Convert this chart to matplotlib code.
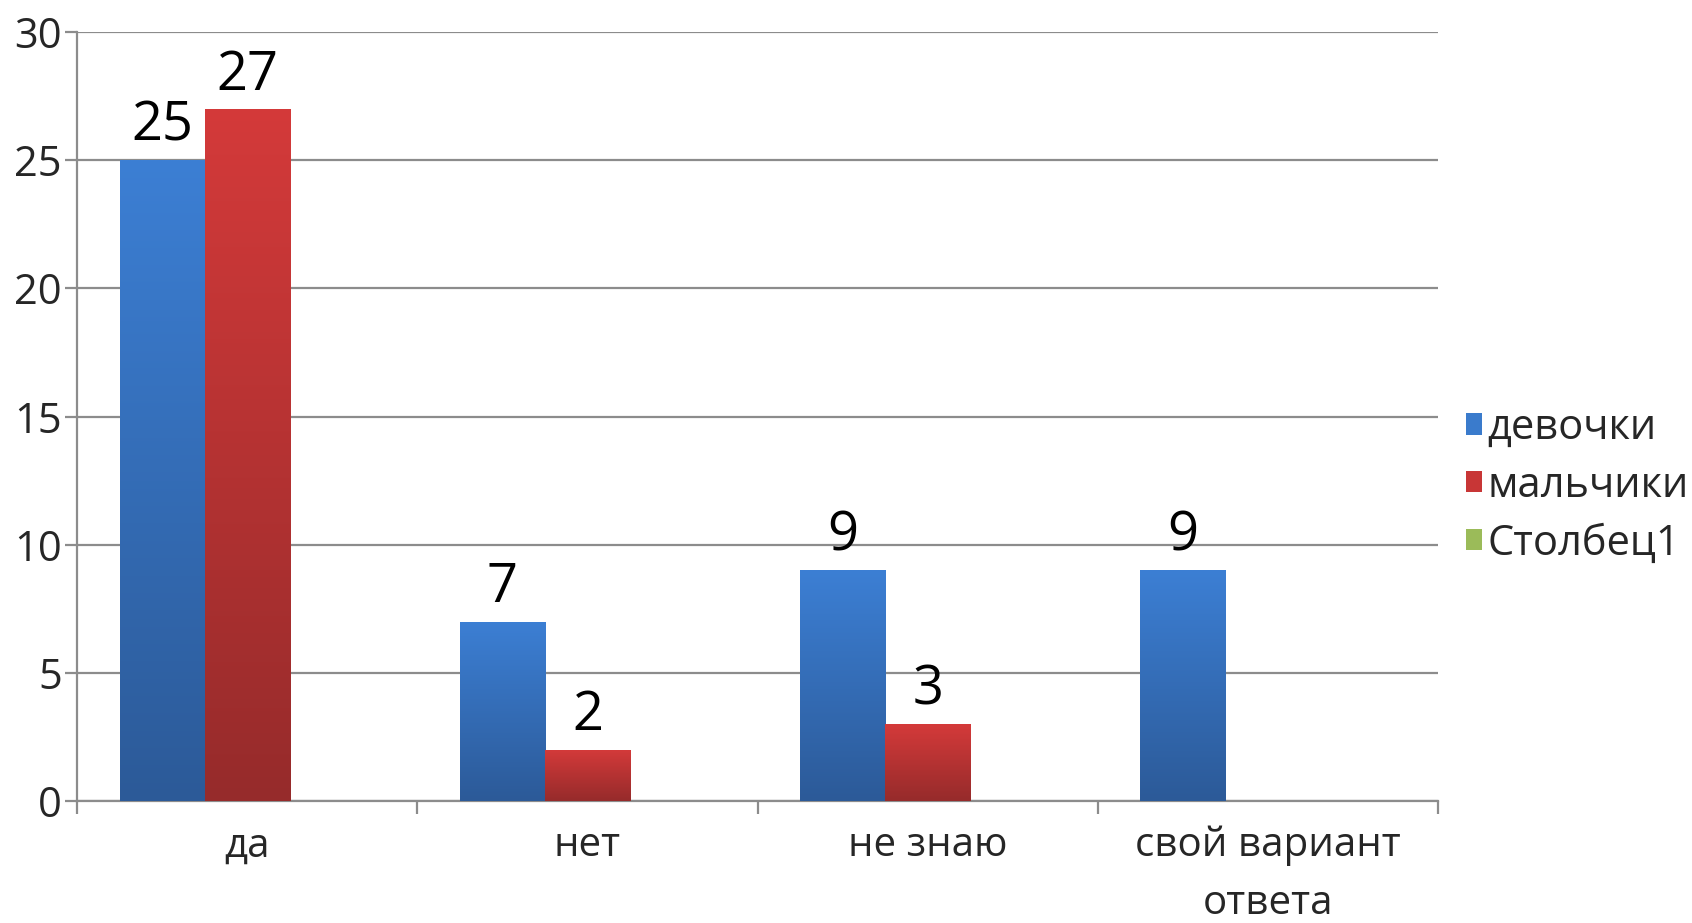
import numpy as np
import matplotlib
matplotlib.use('Agg')
import matplotlib.pyplot as plt
from matplotlib.colors import LinearSegmentedColormap

plt.rcParams['font.family'] = ['Open Sans', 'DejaVu Sans']

categories = ['да', 'нет', 'не знаю', 'свой вариант\nответа']
girls = [25, 7, 9, 9]
boys = [27, 2, 3, 0]
col1 = [0, 0, 0, 0]
series_names = ['девочки', 'мальчики', 'Столбец1']

grid_col = '#8c8c8c'
text_col = '#262626'


def gradient_fill(ax, bars, top, bottom):
    cmap = LinearSegmentedColormap.from_list('g', [bottom, top])
    grad = np.linspace(0, 1, 256).reshape(-1, 1)
    for b in bars:
        if b.get_height() <= 0:
            continue
        x0, y0 = b.get_x(), b.get_y()
        w, h = b.get_width(), b.get_height()
        im = ax.imshow(grad, cmap=cmap, origin='lower', aspect='auto',
                       extent=(x0, x0 + w, y0, y0 + h), zorder=3)
        im.set_clip_path(b)
        b.set_facecolor('none')


fig = plt.figure(figsize=(16.92, 9.23), dpi=100)
ax = fig.add_axes([0.0455, 0.1322, 0.8045, 0.8331])

x = np.arange(len(categories))
w = 0.25
b1 = ax.bar(x - w, girls, w, color='#3a7bcc', zorder=3, linewidth=0)
b2 = ax.bar(x, boys, w, color='#c83636', zorder=3, linewidth=0)
b3 = ax.bar(x + w, col1, w, color='#9bbb59', zorder=3, linewidth=0)

gradient_fill(ax, b1, '#3c7fd4', '#2c5a98')
gradient_fill(ax, b2, '#d43a3a', '#962b2b')

for bars, vals in ((b1, girls), (b2, boys)):
    for b, v in zip(bars, vals):
        if v > 0:
            ax.text(b.get_x() + b.get_width() / 2, v + 0.25, str(v),
                    ha='center', va='bottom', fontsize=39, color='black', zorder=5)

ax.set_xlim(-0.5, len(categories) - 0.5)
ax.set_ylim(0, 30)
ax.set_yticks(range(0, 31, 5))
ax.yaxis.grid(True, color=grid_col, linewidth=1.6, zorder=0)
ax.set_axisbelow(True)

ax.set_xticks(x)
ax.set_xticklabels(categories, linespacing=1.55)
ax.set_xticks(np.arange(len(categories) + 1) - 0.5, minor=True)
ax.tick_params(axis='x', which='major', length=0, pad=18, labelsize=29, labelcolor=text_col)
ax.tick_params(axis='x', which='minor', length=9, width=1.6, color=grid_col, direction='out')
ax.tick_params(axis='y', length=9, width=1.6, color=grid_col, labelsize=30,
               labelcolor=text_col, pad=2)

for s in ('top', 'right'):
    ax.spines[s].set_visible(False)
for s in ('left', 'bottom'):
    ax.spines[s].set_color(grid_col)
    ax.spines[s].set_linewidth(1.6)

leg = ax.legend([b1, b2, b3], series_names, loc='center left',
                bbox_to_anchor=(1.008, 0.41), frameon=False, fontsize=30,
                handlelength=0.4, handleheight=0.4, handletextpad=0.12,
                labelspacing=0.38, borderaxespad=0)
for t in leg.get_texts():
    t.set_color(text_col)
for h, c in zip(leg.legend_handles, ['#3a7bcc', '#c83636', '#9bbb59']):
    h.set_facecolor(c)

fig.savefig('out.png', dpi=100)
